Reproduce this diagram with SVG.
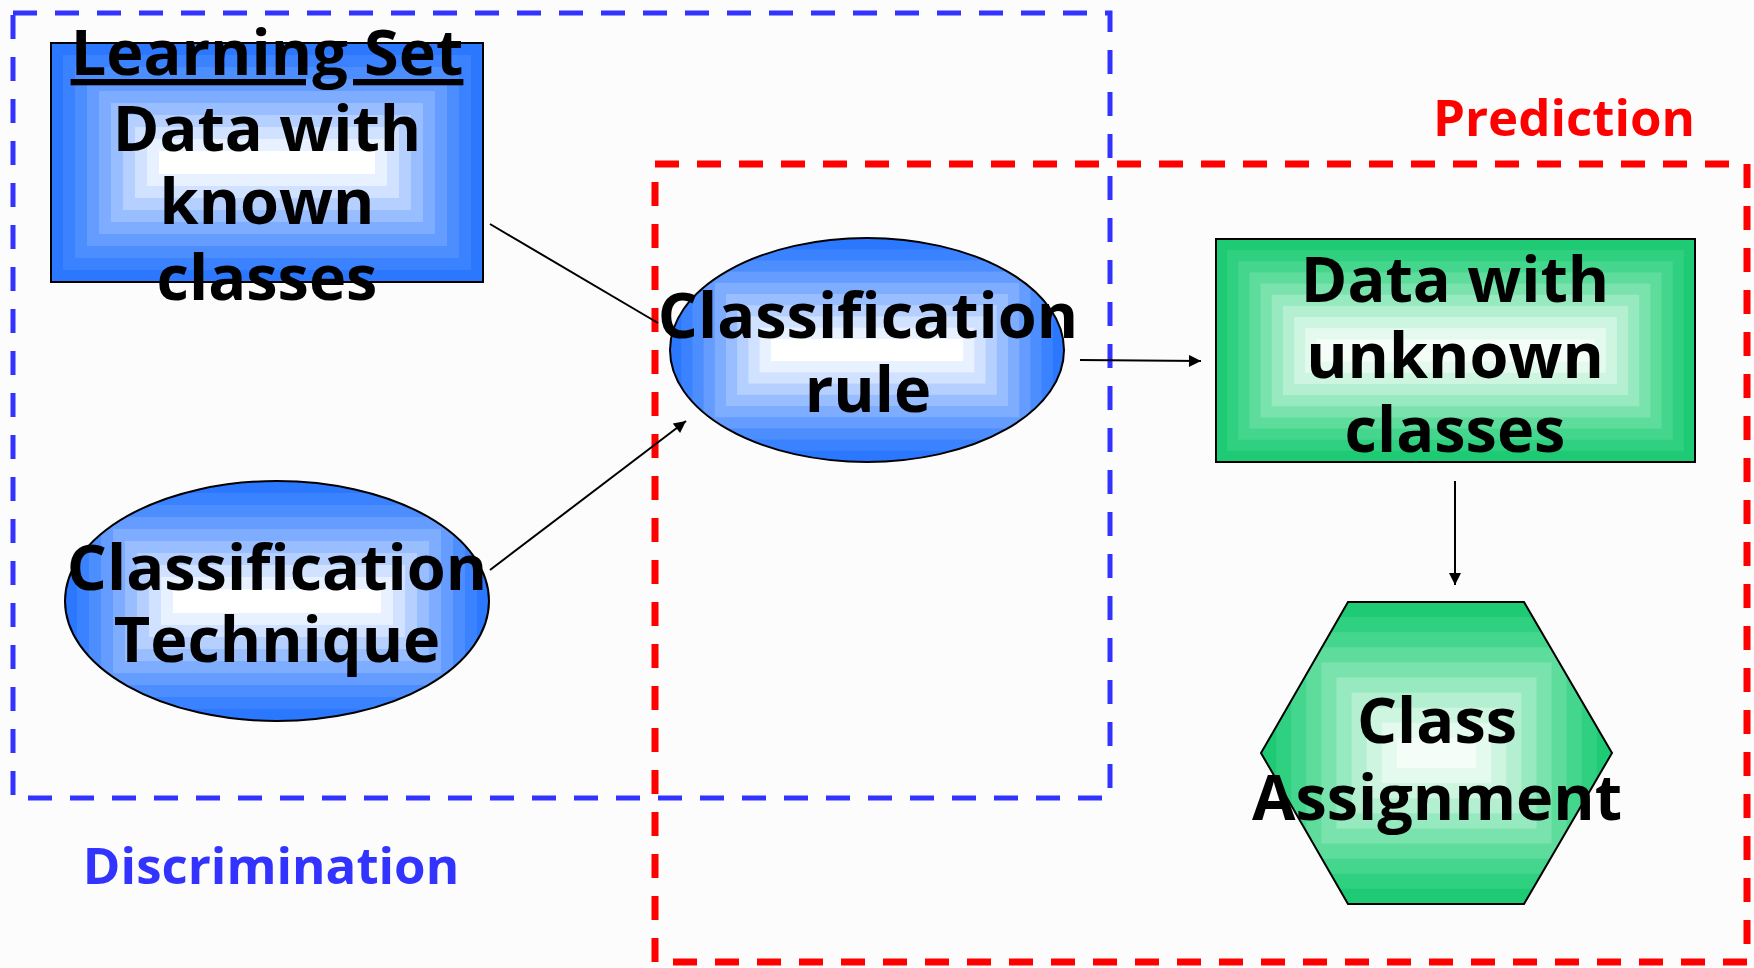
<svg xmlns="http://www.w3.org/2000/svg" width="1754" height="968" viewBox="0 0 1754 968">
<defs>
<style>
.lbl{font-family:"Open Sans","Noto Sans","Liberation Sans",sans-serif;font-weight:700;font-size:63px;fill:#000;text-anchor:middle}
.cap{font-family:"Open Sans","Noto Sans","Liberation Sans",sans-serif;font-weight:700;font-size:51px;text-anchor:middle}
.edge{stroke:#000;stroke-width:2;fill:none}
.conn{stroke:#000;stroke-width:2;fill:none}
.b0{fill:#2b78ff}.b1{fill:#3a82ff}.b2{fill:#4d8eff}.b3{fill:#649cff}.b4{fill:#7eadff}.b5{fill:#99beff}.b6{fill:#b5d0ff}.b7{fill:#d0e2ff}.b8{fill:#e8f1ff}.b9{fill:#ffffff}
.g0{fill:#1ecb74}.g1{fill:#2fd080}.g2{fill:#45d68d}.g3{fill:#5edc9c}.g4{fill:#7ae3ad}.g5{fill:#97e9bf}.g6{fill:#b3efd0}.g7{fill:#cdf5e0}.g8{fill:#e5faef}.g9{fill:#f4fdf8}
</style>
<marker id="arr" viewBox="0 0 10 10" refX="10" refY="5" markerWidth="14" markerHeight="12" markerUnits="userSpaceOnUse" orient="auto">
<path d="M0,0 L10,5 L0,10 z" fill="#000"/>
</marker>
<clipPath id="clipTech"><ellipse cx="277" cy="601" rx="212" ry="120"/></clipPath>
<clipPath id="clipRule"><ellipse cx="867" cy="350" rx="197" ry="112"/></clipPath>
<clipPath id="clipHex"><polygon points="1348,602 1524,602 1612,753 1524,904 1348,904 1261,753"/></clipPath>
</defs>
<rect x="0" y="0" width="1754" height="968" fill="#fcfcfc"/>

<g id="frames">
<rect x="13" y="13" width="1097" height="785" fill="none" stroke="#3333ff" stroke-width="5" stroke-dasharray="24,18"/>
<rect x="655" y="164" width="1092" height="798" fill="none" stroke="#ff0000" stroke-width="7" stroke-dasharray="24,18"/>
<text class="cap" x="1564" y="136" fill="#ff0000">Prediction</text>
<text class="cap" x="271" y="884" fill="#3333ff" font-size="49">Discrimination</text>
</g>

<g id="learning-set">
<rect class="b0" x="51" y="43" width="432" height="239"/>
<rect class="b1" x="63" y="55" width="408" height="215"/>
<rect class="b2" x="75" y="67" width="384" height="191"/>
<rect class="b3" x="87" y="79" width="360" height="167"/>
<rect class="b4" x="99" y="91" width="336" height="143"/>
<rect class="b5" x="111" y="103" width="312" height="119"/>
<rect class="b6" x="123" y="115" width="288" height="95"/>
<rect class="b7" x="135" y="127" width="264" height="71"/>
<rect class="b8" x="147" y="139" width="240" height="47"/>
<rect class="b9" x="159" y="151" width="216" height="23"/>
<rect class="edge" x="51" y="43" width="432" height="239"/>
<text class="lbl" x="267" y="75" text-decoration="underline">Learning Set</text>
<text class="lbl" x="267" y="151">Data with</text>
<text class="lbl" x="267" y="224">known</text>
<text class="lbl" x="267" y="300">classes</text>
</g>

<g id="classification-technique">
<g clip-path="url(#clipTech)">
<rect class="b0" x="65" y="481" width="424" height="240"/>
<rect class="b1" x="77" y="493" width="400" height="216"/>
<rect class="b2" x="89" y="505" width="376" height="192"/>
<rect class="b3" x="101" y="517" width="352" height="168"/>
<rect class="b4" x="113" y="529" width="328" height="144"/>
<rect class="b5" x="125" y="541" width="304" height="120"/>
<rect class="b6" x="137" y="553" width="280" height="96"/>
<rect class="b7" x="149" y="565" width="256" height="72"/>
<rect class="b8" x="161" y="577" width="232" height="48"/>
<rect class="b9" x="173" y="589" width="208" height="24"/>
</g>
<ellipse class="edge" cx="277" cy="601" rx="212" ry="120"/>
<text class="lbl" x="277" y="590">Classification</text>
<text class="lbl" x="277" y="662">Technique</text>
</g>

<g id="classification-rule">
<g clip-path="url(#clipRule)">
<rect class="b0" x="670" y="238" width="394" height="224"/>
<rect class="b1" x="681.2" y="249.2" width="371.6" height="201.6"/>
<rect class="b2" x="692.4" y="260.4" width="349.2" height="179.2"/>
<rect class="b3" x="703.6" y="271.6" width="326.8" height="156.8"/>
<rect class="b4" x="714.8" y="282.8" width="304.4" height="134.4"/>
<rect class="b5" x="726" y="294" width="282" height="112"/>
<rect class="b6" x="737.2" y="305.2" width="259.6" height="89.6"/>
<rect class="b7" x="748.4" y="316.4" width="237.2" height="67.2"/>
<rect class="b8" x="759.6" y="327.6" width="214.8" height="44.8"/>
<rect class="b9" x="770.8" y="338.8" width="192.4" height="22.4"/>
</g>
<ellipse class="edge" cx="867" cy="350" rx="197" ry="112"/>
<text class="lbl" x="868" y="338">Classification</text>
<text class="lbl" x="868" y="412">rule</text>
</g>

<g id="unknown-data">
<rect class="g0" x="1216" y="239" width="479" height="223"/>
<rect class="g1" x="1227.15" y="250.15" width="456.7" height="200.7"/>
<rect class="g2" x="1238.3" y="261.3" width="434.4" height="178.4"/>
<rect class="g3" x="1249.45" y="272.45" width="412.1" height="156.1"/>
<rect class="g4" x="1260.6" y="283.6" width="389.8" height="133.8"/>
<rect class="g5" x="1271.75" y="294.75" width="367.5" height="111.5"/>
<rect class="g6" x="1282.9" y="305.9" width="345.2" height="89.2"/>
<rect class="g7" x="1294.05" y="317.05" width="322.9" height="66.9"/>
<rect class="g8" x="1305.2" y="328.2" width="300.6" height="44.6"/>
<rect class="g9" x="1316.35" y="339.35" width="278.3" height="22.3"/>
<rect class="edge" x="1216" y="239" width="479" height="223"/>
<text class="lbl" x="1455" y="302">Data with</text>
<text class="lbl" x="1455" y="378">unknown</text>
<text class="lbl" x="1455" y="452">classes</text>
</g>

<g id="class-assignment">
<g clip-path="url(#clipHex)">
<rect class="g0" x="1261" y="602" width="351" height="302"/>
<rect class="g1" x="1276.1" y="617.1" width="320.8" height="271.8"/>
<rect class="g2" x="1291.2" y="632.2" width="290.6" height="241.6"/>
<rect class="g3" x="1306.3" y="647.3" width="260.4" height="211.4"/>
<rect class="g4" x="1321.4" y="662.4" width="230.2" height="181.2"/>
<rect class="g5" x="1336.5" y="677.5" width="200" height="151"/>
<rect class="g6" x="1351.6" y="692.6" width="169.8" height="120.8"/>
<rect class="g7" x="1366.7" y="707.7" width="139.6" height="90.6"/>
<rect class="g8" x="1381.8" y="722.8" width="109.4" height="60.4"/>
<rect class="g9" x="1396.9" y="737.9" width="79.2" height="30.2"/>
</g>
<polygon class="edge" points="1348,602 1524,602 1612,753 1524,904 1348,904 1261,753"/>
<text class="lbl" x="1437" y="743">Class</text>
<text class="lbl" x="1437" y="820">Assignment</text>
</g>

<g id="connectors">
<line class="conn" x1="490" y1="224" x2="658" y2="323"/>
<line class="conn" x1="490" y1="570" x2="686" y2="421" marker-end="url(#arr)"/>
<line class="conn" x1="1080" y1="360" x2="1201" y2="361" marker-end="url(#arr)"/>
<line class="conn" x1="1455" y1="481" x2="1455" y2="585" marker-end="url(#arr)"/>
</g>
</svg>
